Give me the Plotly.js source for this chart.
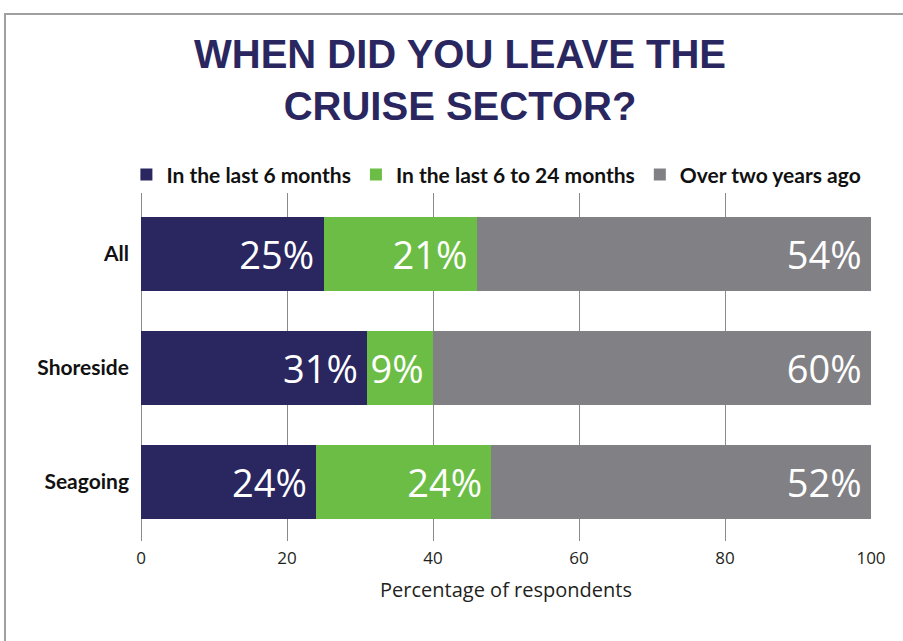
<!DOCTYPE html>
<html>
<head>
<meta charset="utf-8">
<script src="https://cdn.plot.ly/plotly-3.0.1.min.js"></script>
<style>html,body{margin:0;padding:0;background:#fff;}#chart{width:903px;height:641px;}</style>
</head>
<body>
<div id="chart"></div>
<script>
var categories = ['All', 'Shoreside', 'Seagoing'];
var seriesNames = ['In the last 6 months', 'In the last 6 to 24 months', 'Over two years ago'];
var last6 = [25, 31, 24];
var last6to24 = [21, 9, 24];
var over2 = [54, 60, 52];
var colors = ['#2a2660', '#6cbd45', '#818185'];
var xTicks = [0, 20, 40, 60, 80, 100];

var seriesValues = [last6, last6to24, over2];
var traces = seriesValues.map(function (vals, i) {
  return {
    type: 'bar',
    orientation: 'h',
    name: seriesNames[i],
    y: categories,
    x: vals,
    marker: {color: colors[i], line: {width: 0}},
    texttemplate: '%{x}%\u2009',
    textposition: 'inside',
    insidetextanchor: 'end',
    textangle: 0,
    textfont: {family: 'Open Sans', size: 38, color: '#ffffff'},
    hoverinfo: 'skip'
  };
});

var layout = {
  width: 903, height: 641,
  margin: {l: 141, r: 32, t: 193, b: 100},
  paper_bgcolor: '#ffffff', plot_bgcolor: '#ffffff',
  barmode: 'stack',
  bargap: 0.351,
  showlegend: true,
  uniformtext: {minsize: 38, mode: 'show'},
  title: {
    text: 'WHEN DID YOU LEAVE THE<br>CRUISE SECTOR?',
    font: {family: 'Liberation Sans', size: 40, color: '#2a2660', weight: 'bold'},
    x: 460 / 903, xref: 'container', xanchor: 'center',
    y: 1 - 68 / 641, yref: 'container', yanchor: 'top'
  },
  legend: {
    orientation: 'h',
    x: -0.02, xanchor: 'left',
    y: 1.052, yanchor: 'middle',
    font: {family: 'Lato', size: 21, color: '#111111', weight: 'bold'},
    itemwidth: 30,
    traceorder: 'normal',
    bgcolor: 'rgba(0,0,0,0)'
  },
  xaxis: {
    range: [0, 100],
    tickvals: xTicks,
    ticktext: xTicks.map(String),
    showgrid: true, gridcolor: '#8a8a8a', gridwidth: 1,
    zeroline: true, zerolinecolor: '#8a8a8a', zerolinewidth: 1,
    showline: false, ticks: '',
    ticklabelstandoff: 5,
    tickfont: {family: 'Open Sans', size: 17, color: '#231f20'},
    title: {text: 'Percentage of respondents', font: {family: 'Open Sans', size: 20, color: '#231f20'}, standoff: 14},
    fixedrange: true
  },
  yaxis: {
    type: 'category',
    range: [2.5175, -0.535],
    showgrid: false, zeroline: false, showline: false, ticks: '',
    ticklabelstandoff: 11,
    tickfont: {family: 'Lato', size: 21, color: '#111111', weight: 'bold'},
    fixedrange: true
  },
  shapes: [
    {type: 'path', xref: 'paper', yref: 'paper',
     path: 'M -0.1863,-0.30 L -0.1863,1.5144 L 1.06,1.5144',
     line: {color: '#a0a0a0', width: 2}}
  ]
};

Plotly.newPlot('chart', traces, layout, {displayModeBar: false, staticPlot: true});
</script>
</body>
</html>
